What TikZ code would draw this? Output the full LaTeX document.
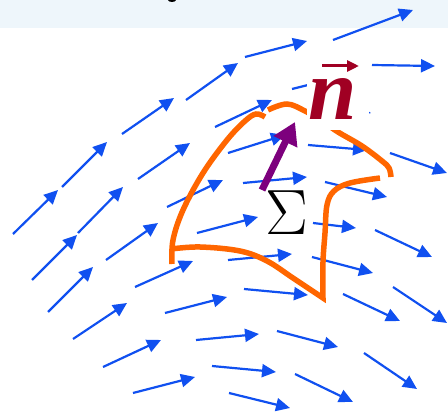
\RequirePackage{fix-cm}
\documentclass[tikz,border=0pt]{standalone}
\usepackage{fontspec}
\newfontfamily\nfont{Liberation Serif}
\usetikzlibrary{arrows.meta}
\definecolor{fieldblue}{RGB}{16,80,240}
\definecolor{surforange}{RGB}{255,102,0}
\definecolor{normalred}{RGB}{160,0,35}
\definecolor{normalpurple}{RGB}{125,0,125}
\definecolor{stripblue}{RGB}{238,246,251}
\tikzset{
  fieldarrow/.style={draw=fieldblue, line width=2.2pt, -{Triangle[length=14pt,width=13pt]}, fill=fieldblue},
  edge/.style={draw=surforange, line width=5.5pt, line cap=butt, line join=miter},
}
\begin{document}
\begin{tikzpicture}[x=1pt,y=-1pt]
\useasboundingbox (0,0) rectangle (448,414);
% header strip
\fill[stripblue] (0,0) rectangle (448,28);
\fill[black] (172,0) ellipse (4 and 2);
% vector field
\foreach \ax/\ay/\bx/\by in {
 333/40/413/10, 245/57/307/41, 372/65/435/66,
 13/234/58/190, 62/187/107/142, 122/134/174/98, 186/100/238/63,
 78/233/123/187, 138/179/190/143, 215/127/272/100, 292/89/352/74,
 228/153/285/135, 308/145/367/150, 390/153/447/173, 312/104/371/113,
 167/207/223/180, 243/183/307/177, 325/182/387/197,
 32/280/77/235, 106/260/158/223, 197/233/258/217, 313/223/356/228, 375/230/432/257,
 48/312/93/267, 135/287/193/261, 228/260/292/254, 312/257/373/273, 393/287/447/323,
 73/339/127/303, 165/313/227/297, 244/289/308/295, 343/294/400/321,
 103/367/161/340, 196/340/259/334, 277/331/338/347, 364/353/417/389,
 133/393/195/377, 212/366/276/372, 295/374/353/402, 229/393/290/408}
 {\draw[fieldarrow] (\ax,\ay) -- (\bx,\by);}
% surface boundary
\draw[edge] plot[smooth, tension=0.6] coordinates {(172,264) (173,240) (183,210) (203,173) (227,140) (245,121) (256,114) (265,117)};
\draw[edge] plot[smooth, tension=0.6] coordinates {(268,110) (287,104) (305,111) (322,121) (338,132) (362,146) (382,161) (389,168) (391,177)};
\draw[edge] plot[smooth, tension=0.6] coordinates {(380,178) (350,183) (334,191) (327,205) (325,233) (323,262) (323,298)}
  -- plot[smooth, tension=0.6] coordinates {(323,298) (293,278) (267,261) (240,251) (200,247) (171,249)};
% label of normal
\fill[white] (307,58) rectangle (369,130);
\node[anchor=base, inner sep=0, text=normalred, font=\nfont\bfseries\itshape\fontsize{87}{87}\selectfont] (nlabel) at (333,120) {n};
\coordinate (nvecA) at (322,66);
\coordinate (nvecB) at (359,66);
\draw[draw=normalred, fill=normalred, line width=3pt, -{Triangle[length=12pt,width=11pt]}] (nvecA) -- (nvecB);
% normal vector
\coordinate (normA) at (262,190);
\coordinate (normB) at (295,122);
\draw[draw=normalpurple, fill=normalpurple, line width=7pt, -{Triangle[length=22pt,width=25pt]}] (normA) -- (normB);
% surface label
\node[anchor=base, inner sep=0, font=\fontsize{64}{64}\selectfont] (sigma) at (286.5,235) {$\Sigma$};
\end{tikzpicture}
\end{document}
